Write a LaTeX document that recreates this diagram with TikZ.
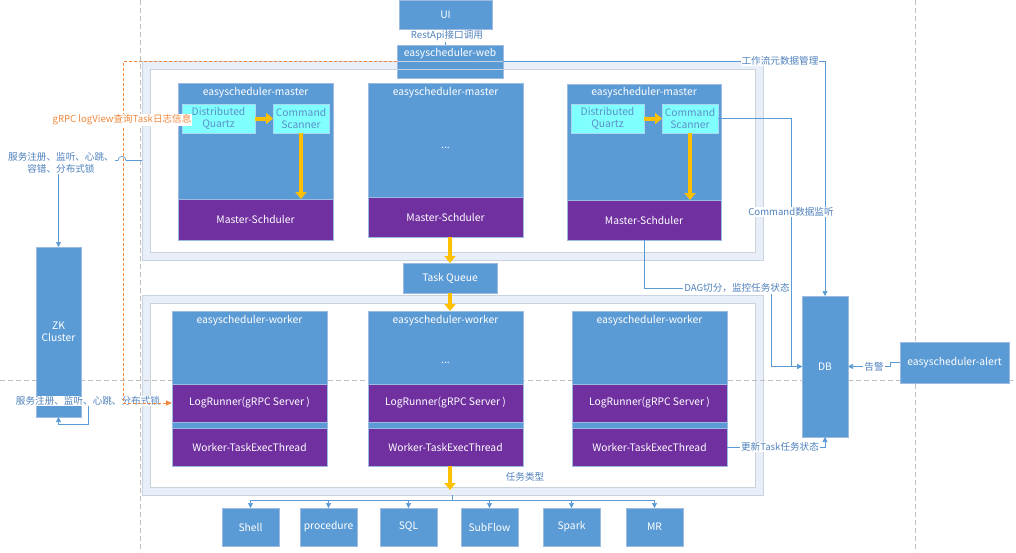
\documentclass[tikz,border=0pt]{standalone}
\usepackage{fontspec}
\setmainfont{Noto Sans CJK SC}
\usetikzlibrary{arrows.meta,calc}
\definecolor{bx}{HTML}{5B9BD5}
\definecolor{bxb}{HTML}{9DBBE0}
\definecolor{pp}{HTML}{7030A0}
\definecolor{cy}{HTML}{80FFFF}
\definecolor{cyb}{HTML}{A8D8F0}
\definecolor{cyt}{HTML}{5B8FC8}
\definecolor{fro}{HTML}{C9D3E1}
\definecolor{frf}{HTML}{E9EFF8}
\definecolor{fri}{HTML}{CBD2DA}
\definecolor{ln}{HTML}{5B9BD5}
\definecolor{lt}{HTML}{4F81BD}
\definecolor{og}{HTML}{F0883E}
\definecolor{yl}{HTML}{FFC000}
\definecolor{gd}{HTML}{BFBFBF}
\tikzset{
 bluebox/.style={draw=bxb, fill=bx, line width=0.6pt, inner sep=0pt, outer sep=0pt, text=white, font=\fontsize{10.3}{12.5}\selectfont, align=center},
 purplebox/.style={bluebox, fill=pp},
 cyanbox/.style={draw=cyb, fill=cy, line width=0.6pt, inner sep=0pt, outer sep=0pt, text=cyt, font=\fontsize{10.3}{12.5}\selectfont, align=center},
 frameo/.style={draw=fro, fill=frf, line width=0.8pt, inner sep=0pt, outer sep=0pt},
 framei/.style={draw=fri, fill=white, line width=0.8pt, inner sep=0pt, outer sep=0pt},
 conn/.style={draw=ln, line width=0.7pt},
 arr/.style={conn, -{Triangle[length=5pt,width=5pt]}},
 lbl/.style={text=lt, fill=white, inner sep=1pt, font=\fontsize{9.6}{12}\selectfont, align=center},
 ylw/.style={draw=yl, line width=4pt, -{Triangle[length=7pt,width=11pt]}},
 ttl/.style={text=white, inner sep=0pt, font=\fontsize{10.3}{12.5}\selectfont},
 gdash/.style={draw=gd, dash pattern=on 5pt off 3pt, line width=0.7pt},
 ogline/.style={draw=og, line width=1pt, dash pattern=on 3pt off 2pt, -{Triangle[length=6pt,width=5pt]}},
}
\begin{document}
\begin{tikzpicture}[x=1pt,y=-1pt]
\useasboundingbox (0,0) rectangle (1016,552);
% frames
\node[frameo, minimum width=621, minimum height=199] (mfo) at (452.5,160.5) {};
\node[framei, minimum width=605, minimum height=183] (mfi) at (452.5,160.5) {};
\node[frameo, minimum width=621, minimum height=200] (wfo) at (452.5,395) {};
\node[framei, minimum width=605, minimum height=184] (wfi) at (452.5,395) {};
% gray dashed guides
\coordinate (g1) at (140,0); \coordinate (g2) at (140,552);
\coordinate (g3) at (915,0); \coordinate (g4) at (915,552);
\coordinate (g5) at (0,380); \coordinate (g6) at (1016,380);
\draw[gdash] (g1) -- (g2);
\draw[gdash] (g3) -- (g4);
\draw[gdash] (g5) -- (g6);
% top
\node[bluebox, minimum width=93, minimum height=29] (ui) at (445.5,14.5) {UI};
\node[bluebox, minimum width=106, minimum height=33] (web) at (450,61.5) {};
\draw[draw=fro, line width=0.8pt] (web.west |- mfo.north) -- (web.east |- mfo.north);
\draw[draw=fro, line width=0.8pt] (web.west |- mfi.north) -- (web.east |- mfi.north);
\node[ttl] (webt) at (450,54) {easyscheduler-web};
% masters
\node[bluebox, minimum width=155, minimum height=116] (m1) at (255.5,141) {};
\node[purplebox, minimum width=155, minimum height=41] (ms1) at (255.5,219.5) {Master-Schduler};
\node[ttl] (m1t) at (255.5,93) {easyscheduler-master};
\node[cyanbox, minimum width=73, minimum height=29] (q1) at (218.5,118.5) {Distributed\\Quartz};
\node[cyanbox, minimum width=56, minimum height=29] (s1) at (301,118.5) {Command\\Scanner};
\node[bluebox, minimum width=155, minimum height=114] (m2) at (445.5,140) {};
\node[purplebox, minimum width=155, minimum height=40] (ms2) at (445.5,217) {Master-Schduler};
\node[ttl] (m2t) at (445.5,93) {easyscheduler-master};
\node[ttl] (m2d) at (445.5,148) {...};
\node[bluebox, minimum width=154, minimum height=116] (m3) at (644,142) {};
\node[purplebox, minimum width=154, minimum height=40] (ms3) at (644,220) {Master-Schduler};
\node[ttl] (m3t) at (644,93) {easyscheduler-master};
\node[cyanbox, minimum width=73, minimum height=29] (q3) at (607.5,118.5) {Distributed\\Quartz};
\node[cyanbox, minimum width=56, minimum height=29] (s3) at (690,118.5) {Command\\Scanner};
% task queue
\node[bluebox, minimum width=94, minimum height=30] (tq) at (450,278) {Task Queue};
% workers
\foreach \n/\cx in {1/249.5,2/445.5,3/649.5}{
  \node[bluebox, minimum width=155, minimum height=155] (w\n) at (\cx,388.5) {};
  \node[purplebox, minimum width=155, minimum height=38] (lr\n) at (\cx,403) {LogRunner(gRPC Server )};
  \node[purplebox, minimum width=155, minimum height=38] (ex\n) at (\cx,447) {Worker-TaskExecThread};
  \node[ttl] (wt\n) at (\cx,321) {easyscheduler-worker};
}
\node[ttl] (w2d) at (445.5,363) {...};
% side boxes
\node[bluebox, minimum width=45, minimum height=170] (zk) at (58.5,332) {ZK\\Cluster};
\node[bluebox, minimum width=46, minimum height=141] (db) at (825,366.5) {DB};
\node[bluebox, minimum width=109, minimum height=41] (alert) at (954.5,362.5) {easyscheduler-alert};
% task types
\node[bluebox, minimum width=57, minimum height=38] (shell) at (250.5,527) {Shell};
\node[bluebox, minimum width=57, minimum height=38] (proc) at (328.5,527) {procedure};
\node[bluebox, minimum width=57, minimum height=38] (sql) at (408.5,527) {SQL};
\node[bluebox, minimum width=57, minimum height=38] (sub) at (489.5,527) {SubFlow};
\node[bluebox, minimum width=57, minimum height=38] (spark) at (571.5,527) {Spark};
\node[bluebox, minimum width=57, minimum height=38] (mr) at (654.5,527) {MR};
% yellow arrows
\draw[ylw] (q1.east) -- (s1.west);
\draw[ylw] (s1.south) -- (s1.south |- ms1.north);
\draw[ylw] (q3.east) -- (s3.west);
\draw[ylw] (s3.south) -- (s3.south |- ms3.north);
\draw[ylw] (tq.north |- ms2.south) -- (tq.north);
\draw[ylw] (tq.south) -- (tq.south |- w2.north);
\draw[ylw] (tq.south |- ex2.south) -- ++(0,24);
% task type bus
\coordinate (bus) at (452.5,500);
\draw[conn] (wfo.south) -- (bus);
\draw[conn] (shell.north |- bus) -- (mr.north |- bus);
\foreach \t in {shell,proc,sql,sub,spark,mr}{
  \draw[arr] (\t.north |- bus) -- (\t.north);
}
% connectors
\draw[conn] (ui.south) -- (ui.south |- web.north);
\draw[arr] (web.east) -| (db.north);
\coordinate (cmd) at (791,366.5);
\draw[arr] (s3.east) -| (cmd) -- (db.west);
\coordinate (dag) at (771,288);
\draw[arr] (ms3.south) |- (dag) |- (db.west);
\draw[arr] (alert.west) -- ++(-10,0) |- (db.east);
\draw[arr] (ex3.east) -| (db.south);
\draw[arr] (mfo.west) -- (126,160.5) .. controls (126,155) and (118,155) .. (118,160.5) -| (zk.north);
\coordinate (zkb) at (88,424);
\draw[arr] (wfo.west |- lr1.west) -| (zkb) -| (zk.south);
% labels
\node[lbl] (l1) at (447,36) {RestApi接口调用};
\node[lbl] (l2) at (780,61) {工作流元数据管理};
\node[lbl] (l3) at (791,212) {Command数据监听};
\node[lbl] (l4) at (737,288) {DAG切分，监控任务状态};
\node[lbl] (l5) at (874,366.5) {告警};
\node[lbl] (l6) at (780,447) {更新Task任务状态};
\node[lbl] (l7) at (61,163) {服务注册、监听、心跳、\\容错、分布式锁};
\node[lbl] (l8) at (88,401) {服务注册、监听、心跳、分布式锁};
\node[lbl] (l9) at (525,477) {任务类型};
% orange dashed log view connector
\coordinate (ogc) at (123,403);
\draw[ogline] (web.west) -| (ogc) -- (lr1.west);
\node[lbl, text=og] (l10) at (122,120) {gRPC logView查询Task日志信息};
\end{tikzpicture}
\end{document}
